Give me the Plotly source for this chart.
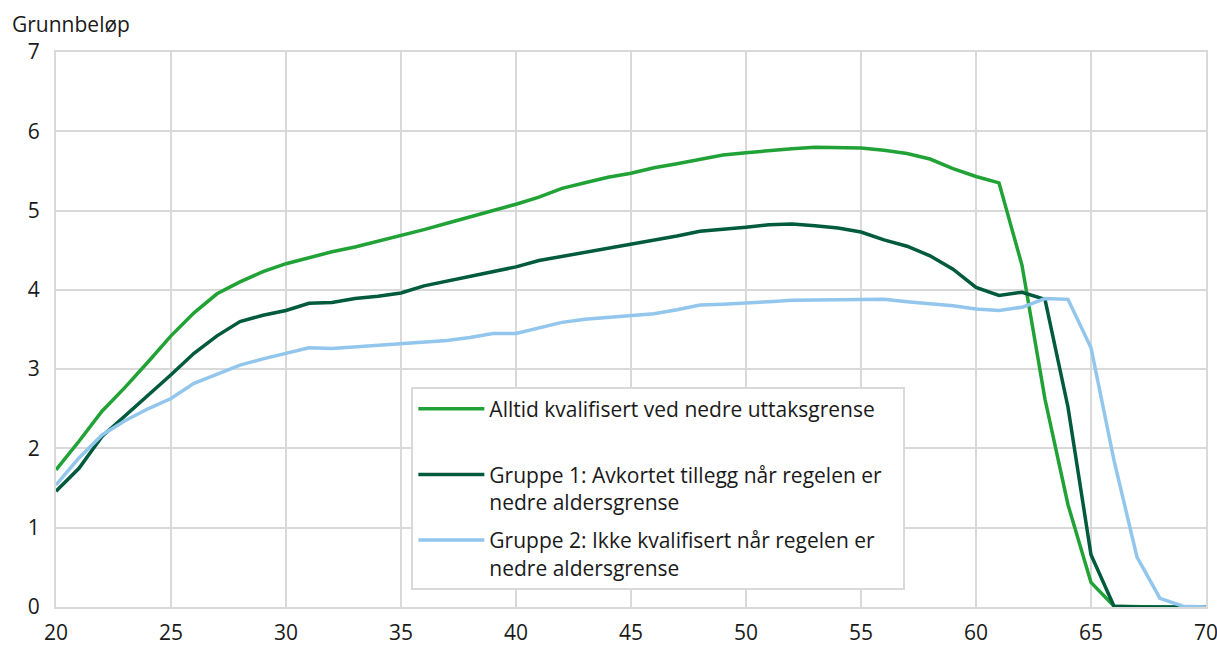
import plotly.graph_objects as go

ages = list(range(20, 71))

alltid = [1.73, 2.09, 2.47, 2.77, 3.09, 3.42, 3.71, 3.95, 4.10, 4.23,
          4.33, 4.41, 4.48, 4.54, 4.61, 4.68, 4.76, 4.84, 4.92, 4.99,
          5.08, 5.17, 5.28, 5.35, 5.42, 5.47, 5.54, 5.59, 5.64, 5.70,
          5.73, 5.76, 5.78, 5.80, 5.80, 5.79, 5.76, 5.72, 5.65, 5.53,
          5.43, 5.35, 4.31, 2.62, 1.29, 0.31, 0.01, 0.0, 0.0, 0.0, 0.0]

gruppe1 = [1.46, 1.75, 2.15, 2.41, 2.66, 2.93, 3.20, 3.42, 3.60, 3.68,
           3.74, 3.83, 3.84, 3.89, 3.92, 3.96, 4.05, 4.11, 4.16, 4.22,
           4.29, 4.37, 4.42, 4.48, 4.53, 4.58, 4.62, 4.68, 4.74, 4.76,
           4.79, 4.82, 4.83, 4.81, 4.78, 4.73, 4.63, 4.55, 4.43, 4.26,
           4.03, 3.93, 3.97, 3.88, 2.52, 0.66, 0.01, 0.0, 0.0, 0.0, 0.0]

gruppe2 = [1.54, 1.88, 2.17, 2.35, 2.50, 2.63, 2.82, 2.94, 3.05, 3.13,
           3.20, 3.27, 3.26, 3.28, 3.30, 3.31, 3.33, 3.36, 3.40, 3.45,
           3.45, 3.52, 3.59, 3.63, 3.65, 3.68, 3.70, 3.75, 3.81, 3.82,
           3.83, 3.85, 3.87, 3.87, 3.88, 3.88, 3.88, 3.85, 3.83, 3.80,
           3.76, 3.74, 3.78, 3.89, 3.88, 3.27, 1.85, 0.63, 0.11, 0.01, 0.0]

names = [
    "Alltid kvalifisert ved nedre uttaksgrense<br>&nbsp;",
    "Gruppe 1: Avkortet tillegg når regelen er&nbsp;&nbsp;&nbsp;<br>nedre aldersgrense",
    "Gruppe 2: Ikke kvalifisert når regelen er<br>nedre aldersgrense",
]
colors = ["#21a236", "#005a3d", "#93c6ec"]
series = [alltid, gruppe1, gruppe2]

x_ticks = list(range(20, 71, 5))
y_ticks = list(range(0, 8))

FONT = "Open Sans"
FS = 21
TXT = "#1a1a1a"
fig = go.Figure()
for i, (nm, col, vals) in enumerate(zip(names, colors, series)):
    fig.add_trace(go.Scatter(x=ages, y=vals, mode="lines", name=nm,
                             legendgroup=f"g{i}",
                             line=dict(color=col, width=3.5)))

grid = "#d9d9d9"
fig.update_layout(
    width=1217, height=648,
    margin=dict(l=56, r=11, t=52, b=41, autoexpand=False),
    plot_bgcolor="white", paper_bgcolor="white",
    font=dict(family=FONT, size=FS, color=TXT),
    showlegend=True,
    legend=dict(x=0.309, y=0.397, xanchor="left", yanchor="top",
                bordercolor=grid, borderwidth=2, bgcolor="white",
                valign="top", tracegroupgap=8, itemwidth=66,
                font=dict(family=FONT, size=FS, color=TXT)),
    xaxis=dict(range=[20, 70], tickvals=x_ticks, showgrid=True,
               gridcolor=grid, gridwidth=2, zeroline=False,
               showline=True, linecolor=grid, linewidth=2, mirror=True,
               ticks="", ticklabelstandoff=6, automargin=False,
               ticklabeloverflow="allow"),
    yaxis=dict(range=[0, 7], tickvals=y_ticks, showgrid=True,
               gridcolor=grid, gridwidth=2, zeroline=False,
               showline=True, linecolor=grid, linewidth=2, mirror=True,
               ticks="", ticklabelstandoff=10, automargin=False,
               ticklabeloverflow="allow"),
    annotations=[dict(text="Grunnbeløp", xref="paper", yref="paper",
                      x=-0.04, y=1, xanchor="left", yanchor="bottom",
                      yshift=12, showarrow=False,
                      font=dict(family=FONT, size=FS, color=TXT))],
)

fig.write_html("out.html", config={"displayModeBar": False},
               post_script="document.body.style.margin='0';document.body.style.overflow='hidden';")
